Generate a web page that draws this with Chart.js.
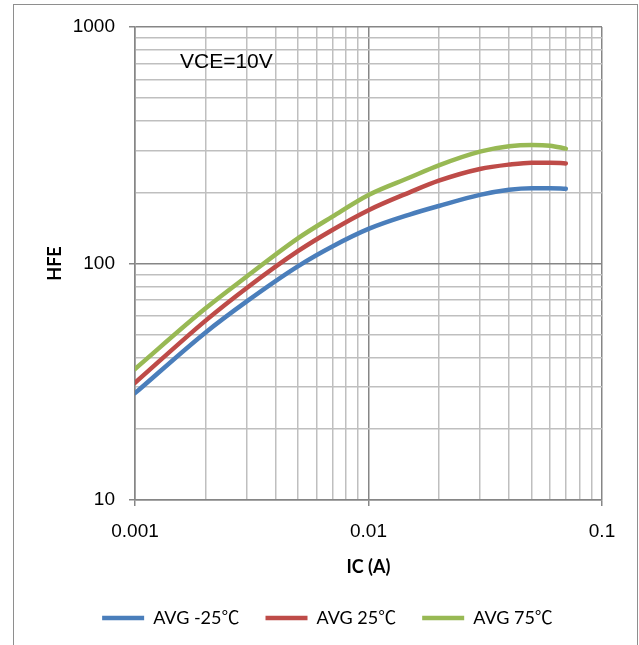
<!DOCTYPE html>
<html>
<head>
<meta charset="utf-8">
<script src="https://cdn.jsdelivr.net/npm/chart.js@4.4.1/dist/chart.umd.min.js"></script>
<style>
    html, body { margin: 0; padding: 0; background: #fff; }
    #wrap { width: 639px; height: 645px; }
</style>
</head>
<body>
<div id="wrap"><canvas id="hfeChart" width="639" height="645"></canvas></div>
<script>
// IC (A) sample points and HFE
const icValues   = [0.001, 0.002, 0.003, 0.005, 0.007, 0.01, 0.015, 0.02, 0.03, 0.04, 0.05, 0.06, 0.07];
const hfeMinus25 = [28.3, 51.0, 69.0, 97.5, 118, 140, 161, 175, 195, 205, 208, 208, 207];
const hfePlus25  = [31.3, 57.2, 78.6, 113, 138.6, 168, 200, 224, 251, 262, 267, 267, 265];
const hfePlus75  = [35.8, 64.5, 87.9, 128, 157.8, 195, 231, 260, 297, 313, 317, 315, 306];

const seriesNames = ['AVG -25\u2103', 'AVG 25\u2103', 'AVG 75\u2103'];
const seriesColors = ['#4A7EBB', '#BE4B48', '#98B954'];

// grid positions and the ones that carry a label
const xGridValues = [0.001, 0.002, 0.003, 0.004, 0.005, 0.006, 0.007, 0.008, 0.009,
                     0.01, 0.02, 0.03, 0.04, 0.05, 0.06, 0.07, 0.08, 0.09, 0.1];
const xTickLabels = [0.001, 0.01, 0.1];
const yGridValues = [10, 20, 30, 40, 50, 60, 70, 80, 90,
                     100, 200, 300, 400, 500, 600, 700, 800, 900, 1000];
const yTickLabels = [10, 100, 1000];

const tickFont = { family: "'Liberation Sans', Arial, sans-serif", size: 19 };
const titleFont = { family: "Lato, 'Noto Sans', sans-serif", size: 18, weight: 'bold' };

function toPoints(ys) {
    return icValues.map((x, i) => ({ x: x, y: ys[i] }));
}

function gridColor(labels) {
    return c => (c.tick && labels.includes(c.tick.value)) ? '#868686' : '#BFBFBF';
}
function tickColor(labels) {
    return c => (c.tick && labels.includes(c.tick.value)) ? '#868686' : 'rgba(0,0,0,0)';
}

const framePlugin = {
    id: 'frame',
    beforeDraw(chart) {
        const c = chart.ctx;
        c.save();
        c.fillStyle = '#fff';
        c.fillRect(0, 0, chart.width, chart.height);
        c.strokeStyle = '#8E8E8E';
        c.lineWidth = 1;
        c.strokeRect(13.5, 4.5, 624, 660);
        c.restore();
    },
    afterDraw(chart) {
        const c = chart.ctx;
        c.save();
        c.fillStyle = '#000';
        c.font = "21px 'Liberation Sans', Arial, sans-serif";
        c.textBaseline = 'middle';
        c.fillText('VCE=10V', 180, 62);
        c.restore();
    }
};

const ctx = document.getElementById('hfeChart').getContext('2d');
const datasets = [hfeMinus25, hfePlus25, hfePlus75].map((ys, i) => ({
    label: seriesNames[i],
    data: toPoints(ys),
    borderColor: seriesColors[i],
    backgroundColor: seriesColors[i],
    borderWidth: 4.5,
    borderCapStyle: 'round',
    pointRadius: 0,
    pointStyle: 'line',
    cubicInterpolationMode: 'monotone',
    fill: false
}));

new Chart(ctx, {
    type: 'line',
    data: { datasets: datasets },
    options: {
        responsive: false,
        animation: false,
        layout: { padding: { left: 16, right: 0, top: 27, bottom: 8 } },
        plugins: {
            tooltip: { enabled: false },
            legend: {
                position: 'bottom',
                labels: {
                    usePointStyle: true,
                    pointStyle: 'line',
                    pointStyleWidth: 42,
                    padding: 26,
                    color: '#000',
                    font: { family: "Lato, 'Noto Sans CJK SC', sans-serif", size: 18 }
                }
            }
        },
        scales: {
            x: {
                type: 'logarithmic',
                min: 0.001,
                max: 0.1,
                afterBuildTicks: s => { s.ticks = xGridValues.map(v => ({ value: v })); },
                afterFit: s => { s.height = 83; },
                ticks: {
                    autoSkip: false,
                    maxRotation: 0,
                    minRotation: 0,
                    padding: 14,
                    color: '#000',
                    font: tickFont,
                    callback: v => xTickLabels.includes(v) ? String(v) : ''
                },
                grid: { color: gridColor(xTickLabels), tickColor: tickColor(xTickLabels), tickLength: 6, lineWidth: 1.5 },
                border: { color: '#868686', width: 1.5 },
                title: { display: true, text: 'IC (A)', color: '#000', font: titleFont, padding: { top: 0, bottom: 5 } }
            },
            y: {
                type: 'logarithmic',
                min: 10,
                max: 1000,
                afterBuildTicks: s => { s.ticks = yGridValues.map(v => ({ value: v })); },
                afterFit: s => { s.width = 119; },
                ticks: {
                    autoSkip: false,
                    padding: 14,
                    color: '#000',
                    font: tickFont,
                    callback: v => yTickLabels.includes(v) ? String(v) : ''
                },
                grid: { color: gridColor(yTickLabels), tickColor: tickColor(yTickLabels), tickLength: 6, lineWidth: 1.5 },
                border: { color: '#868686', width: 1.5 },
                title: { display: true, text: 'HFE', color: '#000', font: titleFont, padding: { top: 28, bottom: 0 } }
            },
            yRight: {
                position: 'right',
                display: true,
                grid: { display: false },
                border: { display: false },
                ticks: { display: false },
                afterFit: s => { s.width = 37; }
            }
        }
    },
    plugins: [framePlugin]
});
</script>
</body>
</html>
